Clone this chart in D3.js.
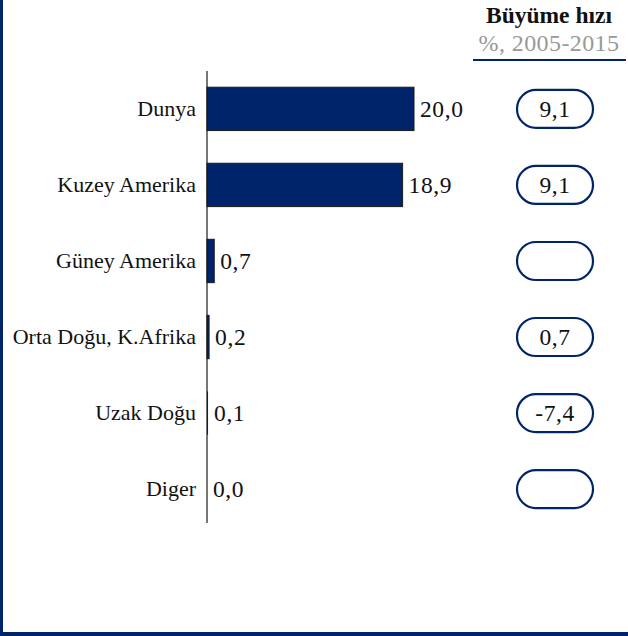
<!DOCTYPE html>
<html><head><meta charset="utf-8">
<script src="https://cdn.jsdelivr.net/npm/d3@7"></script>
<style>body{margin:0;background:#fff}svg{display:block}</style>
</head><body>
<script>
const categories = ["Dunya","Kuzey Amerika","Güney Amerika","Orta Doğu, K.Afrika","Uzak Doğu","Diger"];
const values = [20.0, 18.9, 0.7, 0.2, 0.1, 0.0];
const growth = ["9,1","9,1","","0,7","-7,4",""];
const headerTitle = "Büyüme hızı";
const headerSub = "%, 2005-2015";

const W = 628, H = 636;
const navy = "#002469";
const font = "'Liberation Serif', 'Times New Roman', serif";
const fmt = v => d3.format(".1f")(v).replace(".", ",");

const svg = d3.select("body").append("svg").attr("width", W).attr("height", H);

// frame (left + bottom)
svg.append("rect").attr("x",0).attr("y",0).attr("width",3).attr("height",H).attr("fill",navy);
svg.append("rect").attr("x",0).attr("y",H-4).attr("width",W).attr("height",4).attr("fill",navy);

const x = d3.scaleLinear().domain([0, 20]).range([207, 414]);
const y = d3.scaleBand().domain(categories).range([72, 526]).paddingInner(0.43).paddingOuter(0.2);

const g = svg.append("g");
g.selectAll("rect.bar").data(categories).join("rect").attr("class","bar")
  .attr("x", x(0)).attr("y", d => y(d))
  .attr("width", (d,i) => x(values[i]) - x(0))
  .attr("height", y.bandwidth())
  .attr("fill", navy).attr("stroke", "#1a1a1a")
  .attr("stroke-width", (d,i) => (x(values[i]) - x(0)) > 1.5 ? 1 : 0)
  .style("display", (d,i) => values[i] > 0 ? null : "none");

// axis line
const axis = d3.axisLeft(y).tickSize(0).tickPadding(11);
const ax = svg.append("g").attr("transform", `translate(${x(0)},0)`).call(axis);
ax.select(".domain").attr("stroke", "#1a1a1a").attr("stroke-width", 1.2)
  .attr("d", "M0,71V523");
ax.selectAll("text").attr("font-family", font).attr("font-size", 22).attr("fill", "#111");

// value labels
g.selectAll("text.val").data(categories).join("text").attr("class","val")
  .attr("x", (d,i) => x(values[i]) + 6)
  .attr("y", d => y(d) + y.bandwidth()/2)
  .attr("dy", "0.35em")
  .attr("font-family", font).attr("font-size", 23.5).attr("letter-spacing", 0.6).attr("fill", "#111")
  .text((d,i) => fmt(values[i]));

// growth pills
const cx = 555;
const pills = svg.append("g").selectAll("g").data(categories).join("g")
  .attr("transform", d => `translate(${cx},${y(d) + y.bandwidth()/2})`);
pills.append("rect").attr("x", -38).attr("y", -19).attr("width", 76).attr("height", 38)
  .attr("rx", 19).attr("ry", 19).attr("fill", "#fff").attr("stroke", navy).attr("stroke-width", 2.2);
pills.append("text").attr("text-anchor","middle").attr("dy","0.35em")
  .attr("font-family", font).attr("font-size", 23.5).attr("letter-spacing", 0.6).attr("fill","#111")
  .text((d,i) => growth[i]);

// header
svg.append("text").attr("x", 549).attr("y", 23).attr("text-anchor","middle")
  .attr("font-family", font).attr("font-size", 23.5).attr("font-weight","bold").attr("fill","#111")
  .text(headerTitle);
svg.append("text").attr("x", 549).attr("y", 51).attr("text-anchor","middle")
  .attr("font-family", font).attr("font-size", 24).attr("letter-spacing", 0.4).attr("fill","#999")
  .text(headerSub);
svg.append("line").attr("x1", 473).attr("x2", 626).attr("y1", 60).attr("y2", 60)
  .attr("stroke", navy).attr("stroke-width", 2.2);
</script>
</body></html>
